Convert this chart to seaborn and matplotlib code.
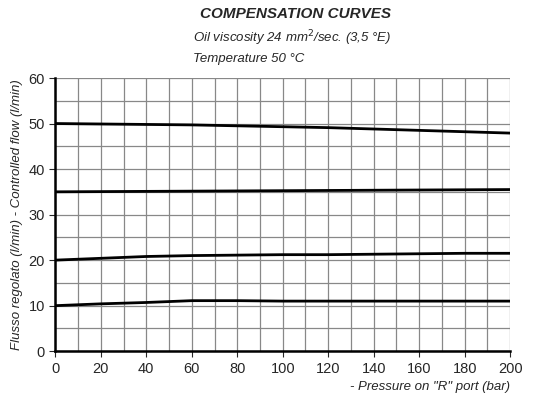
import matplotlib
matplotlib.use("Agg")
import matplotlib.pyplot as plt
import seaborn as sns
import pandas as pd

sns.set_style("white")
plt.rcParams['font.family'] = ['Liberation Sans', 'DejaVu Sans']

pressure = [0, 20, 40, 60, 80, 100, 120, 140, 160, 180, 200]
curve50 = [50, 49.9, 49.8, 49.7, 49.5, 49.3, 49.1, 48.8, 48.5, 48.2, 47.9]
curve35 = [35, 35.05, 35.1, 35.15, 35.2, 35.25, 35.3, 35.35, 35.4, 35.45, 35.5]
curve20 = [20, 20.4, 20.8, 21.0, 21.1, 21.2, 21.2, 21.3, 21.4, 21.5, 21.5]
curve10 = [10, 10.4, 10.7, 11.1, 11.1, 11.0, 11.0, 11.0, 11.0, 11.0, 11.0]

df = pd.DataFrame({"p": pressure * 4,
                   "q": curve50 + curve35 + curve20 + curve10,
                   "c": ["50"] * 11 + ["35"] * 11 + ["20"] * 11 + ["10"] * 11})

fig = plt.figure(figsize=(5.37, 4.0), dpi=100)
ax = fig.add_axes([0.103, 0.122, 0.847, 0.683])
sns.lineplot(data=df, x="p", y="q", units="c", estimator=None, color="black",
             linewidth=2, ax=ax, legend=False)
ax.set_xlim(0, 200)
ax.set_ylim(0, 60)
ax.set_xticks(range(0, 201, 20))
ax.set_xticks(range(0, 201, 10), minor=True)
ax.set_yticks(range(0, 61, 10))
ax.set_yticks(range(0, 61, 5), minor=True)
ax.grid(True, which="both", color="#888888", linewidth=0.9)
for s in ["top", "right"]:
    ax.spines[s].set_visible(False)
for s in ["left", "bottom"]:
    ax.spines[s].set_linewidth(1.8)
    ax.spines[s].set_color("black")
ax.tick_params(axis="both", which="major", length=4, labelsize=10.5, direction="out",
               left=True, bottom=True)
ax.set_xlabel('- Pressure on "R" port (bar)', fontsize=9.5, style="italic", loc="right")
ax.set_ylabel("Flusso regolato (l/min) - Controlled flow (l/min)", fontsize=9.5, style="italic")
fig.text(0.55, 0.955, "COMPENSATION CURVES", fontsize=11, weight="bold", style="italic", ha="center")
fig.text(0.36, 0.895, "Oil viscosity 24 mm$^2$/sec. (3,5 °E)", fontsize=9.5, style="italic")
fig.text(0.36, 0.845, "Temperature 50 °C", fontsize=9.5, style="italic")
fig.savefig("out.png", dpi=100)
